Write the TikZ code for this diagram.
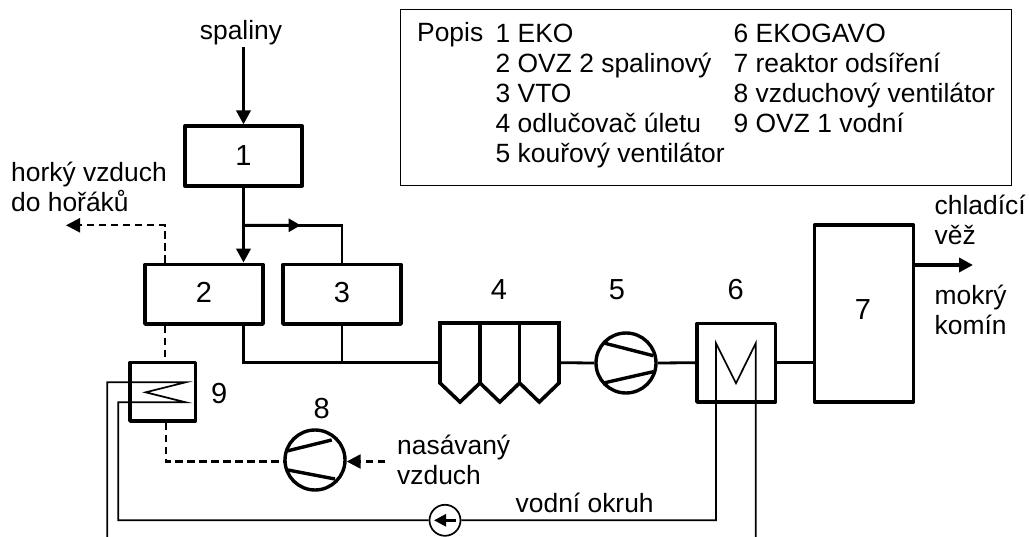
\documentclass[tikz,border=0pt]{standalone}
\usepackage{fontspec}
\setmainfont{Liberation Sans}
\usetikzlibrary{arrows.meta,calc}
\tikzset{
  box/.style={draw,line width=3.6pt,line join=round,inner sep=0pt},
  main/.style={line width=3.4pt},
  pipe/.style={line width=2.8pt},
  air/.style={line width=2.4pt,dash pattern=on 7.5pt off 4.5pt},
  water/.style={line width=1.7pt},
  tip/.style={-{Triangle[length=14pt,width=14pt]}},
  lab/.style={font=\fontsize{26.4pt}{30pt}\selectfont,inner sep=0pt,align=left,anchor=base west},
  num/.style={font=\fontsize{29pt}{32pt}\selectfont,inner sep=0pt,anchor=base},
  fan/.style={draw,circle,line width=3.4pt,minimum size=60pt,inner sep=0pt},
  blade/.style={line width=3.4pt},
}
\begin{document}
\begin{tikzpicture}[x=1pt,y=-1pt]
\useasboundingbox (0,0) rectangle (1029,537);
% legend
\node[draw,line width=1.3pt,minimum width=610.5pt,minimum height=176.5pt,inner sep=0pt] (legend) at (706,97.5) {};
\node[lab] (popis) at (417,41.7) {Popis};
\node[lab,anchor=north west] (legA) at (495.5,23.5) {1 EKO\\2 OVZ 2 spalinový\\3 VTO\\4 odlučovač úletu\\5 kouřový ventilátor};
\node[lab,anchor=north west] (legB) at (733.5,23.5) {6 EKOGAVO\\7 reaktor odsíření\\8 vzduchový ventilátor\\9 OVZ 1 vodní};
% boxes
\node[box,minimum width=117.5pt,minimum height=59.5pt] (b1) at (243.5,156) {};
\node[box,minimum width=118pt,minimum height=59.5pt] (b2) at (204,294.2) {};
\node[box,minimum width=118pt,minimum height=59.5pt] (b3) at (342,294.2) {};
\node[box,minimum width=65.5pt,minimum height=58.5pt] (b9) at (162.7,391.7) {};
\node[box,minimum width=78.5pt,minimum height=78.5pt] (b6) at (736.2,362.7) {};
\node[box,minimum width=99pt,minimum height=177pt] (b7) at (864,313.5) {};
\node[fan] (f5) at (626,363) {};
\node[fan] (f8) at (315,460) {};
\node[draw,circle,line width=1.7pt,minimum size=31pt,inner sep=0pt] (pump) at (445,520.3) {};
% numbers
\node[num] (n1) at (243.5,165.5) {1};
\node[num] (n2) at (204,303) {2};
\node[num] (n3) at (342,303) {3};
\node[num] (n4) at (499,300) {4};
\node[num] (n5) at (617,300) {5};
\node[num] (n6) at (735.7,300) {6};
\node[num] (n7) at (863,320) {7};
\node[num] (n8) at (321.7,418.3) {8};
\node[num] (n9) at (219.3,403.3) {9};
% labels
\node[lab,anchor=base] (spal) at (241,40) {spaliny};
\node[lab] (hot1) at (11,181.7) {horký vzduch};
\node[lab] (hot2) at (11,211.7) {do hořáků};
\node[lab] (nas1) at (397,455) {nasávaný};
\node[lab] (nas2) at (397,485) {vzduch};
\node[lab] (okr) at (515.5,512.7) {vodní okruh};
\node[lab] (chl1) at (934.5,215) {chladící};
\node[lab] (chl2) at (934.5,245) {věž};
\node[lab] (mok1) at (934.5,305) {mokrý};
\node[lab] (mok2) at (934.5,335) {komín};
% helper points
\coordinate (top) at (243.5,46.7);
\coordinate (j) at (243.5,225.3);
\coordinate (jr) at (342,225.3);
\coordinate (hotend) at (66,225.3);
\coordinate (hotv) at (164.7,225.3);
\coordinate (low) at (243.5,362.7);
\coordinate (h4w) at (440,362.7);
\coordinate (h4e) at (559,362.7);
\coordinate (airin) at (385,461.5);
\coordinate (aircorner) at (166,461.5);
\coordinate (out) at (973,265);
% hopper 4
\draw[line width=3.6pt,line join=miter] (440,383) -- (440,323) -- (559,323) -- (559,383) -- (539.3,402) -- (519.6,383) -- (499.8,402) -- (480,383) -- (460,402) -- cycle;
\draw[line width=3.6pt] (480,323) -- (480,383) (519.6,323) -- (519.6,383);
% fan blades
\draw[blade] (605,343.3) -- (653.3,355.7) (605,382.7) -- (653.3,371.7);
\draw[blade] (287,451) -- (331.7,440) (288,470) -- (335,479);
% flue gas
\draw[main,tip] (top) -- (b1.north);
\draw[main] (b1.south) -- (j);
\draw[main,tip] (j) -- (b2.north -| j);
\draw[pipe] (j) -- (jr) -- (b3.north);
\draw[-{Triangle[length=12pt,width=13pt]},pipe] (j) -- ($(j)!0.58!(jr)$);
\draw[pipe] (b2.south -| low) -- (low) -- (h4w);
\draw[pipe] (b3.south) -- (b3.south |- low);
\draw[pipe] (h4e) -- (f5.west);
\draw[pipe] (f5.east) -- (b6.west);
\draw[pipe] (b6.east) -- (b7.west |- b6.east);
\draw[main,tip] (b7.east |- out) -- (out);
% air
\draw[air,tip] (b2.north -| hotv) -- (hotv) -- (hotend);
\draw[air] (b2.south -| hotv) -- (b9.north -| hotv);
\draw[air] (b9.south -| aircorner) -- (aircorner) -- (f8.west |- aircorner);
\draw[air,tip] (airin) -- (f8.east |- airin);
% water
\draw[water] (107.3,537) -- (107.3,382.3) -- (185.7,382.3) -- (145.7,392.3) -- (185.7,402.3) -- (118.3,402.3) -- (118.3,520.3) -- (pump.west);
\draw[water] (pump.east) -- (716,520.3) -- (716,343.3) -- (736,383.3) -- (755.7,343.3) -- (755.7,537);
\draw[line width=2.4pt,-{Triangle[length=12pt,width=12pt]}] (456,520.3) -- (434,520.3);
\end{tikzpicture}
\end{document}
